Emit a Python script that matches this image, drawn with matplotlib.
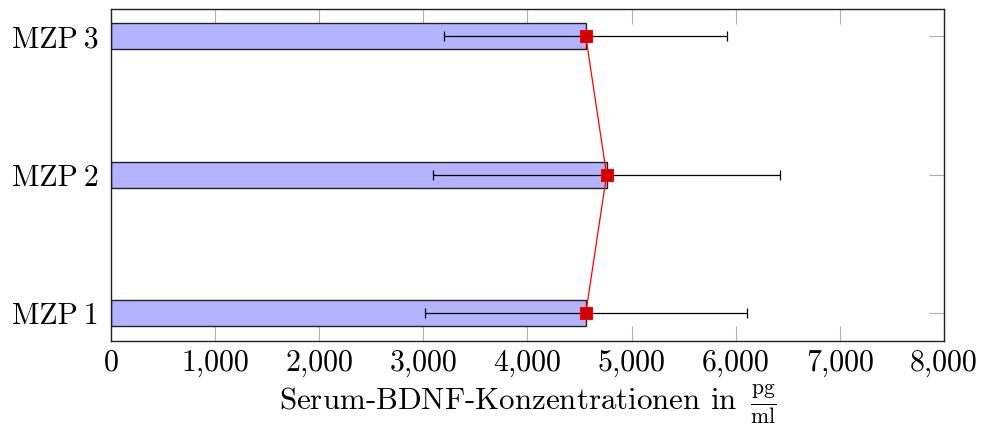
import matplotlib
matplotlib.use("Agg")
import matplotlib.pyplot as plt

categories = ["MZP\u20091", "MZP\u20092", "MZP\u20093"]
means = [4560, 4760, 4560]
errors = [1545, 1667, 1360]
xticks = [0, 1000, 2000, 3000, 4000, 5000, 6000, 7000, 8000]
xticklabels = ["0", "1,000", "2,000", "3,000", "4,000", "5,000", "6,000", "7,000", "8,000"]

plt.rcParams['font.family'] = ['cmr10', 'DejaVu Serif']
plt.rcParams['mathtext.fontset'] = 'cm'
plt.rcParams['axes.unicode_minus'] = False

fig = plt.figure(figsize=(9.83, 4.30), dpi=100)
ax = fig.add_axes([0.1129, 0.207, 0.8474, 0.773])

pos = [1, 2, 3]
ax.barh(pos, means, height=0.19, color="#b3b3ff", edgecolor="#222222", linewidth=1.0, zorder=2)
ax.errorbar(means, pos, xerr=errors, fmt="none", ecolor="black", elinewidth=0.9,
            capsize=3.6, capthick=0.9, zorder=3)
ax.plot(means, pos, color="red", linewidth=0.9, marker="s", markersize=8.5,
        markerfacecolor="#cc0000", markeredgecolor="red", markeredgewidth=0.8, zorder=4)

ax.set_xlim(0, 8000)
ax.set_ylim(0.8, 3.2)
ax.set_xticks(xticks)
ax.set_xticklabels(xticklabels, fontsize=21.5)
ax.set_yticks(pos)
ax.set_yticklabels(categories, fontsize=21.5)
ax.tick_params(direction="in", length=10.5, width=0.8, color="#b0b0b0",
               top=True, right=True)
ax.tick_params(axis="x", pad=6)
ax.tick_params(axis="y", pad=9)
for s in ax.spines.values():
    s.set_linewidth(1.0)
    s.set_color("#222222")

ax.set_xlabel(r"Serum-BDNF-Konzentrationen in $\,\frac{\mathrm{pg}}{\mathrm{ml}}$",
              fontsize=22.3, labelpad=4)

fig.savefig("out.png", dpi=100)
